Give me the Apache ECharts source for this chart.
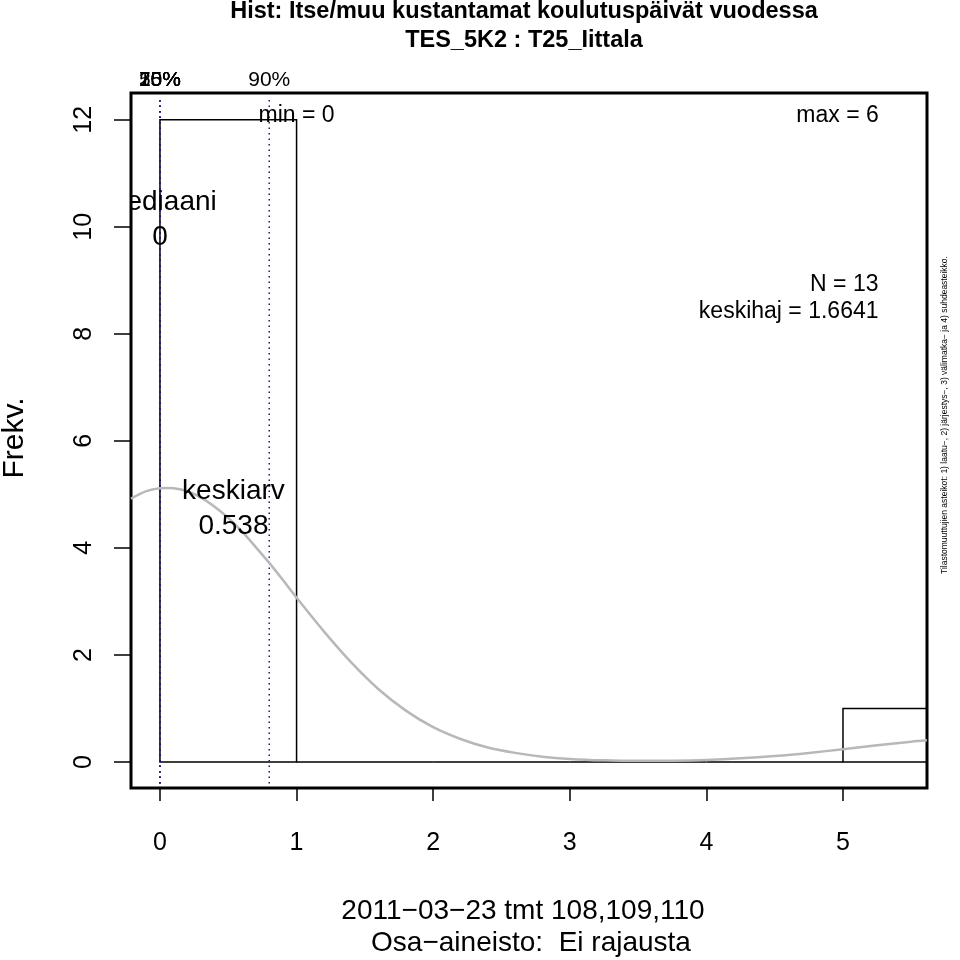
<!DOCTYPE html>
<html>
<head>
<meta charset="utf-8">
<script src="https://cdn.jsdelivr.net/npm/echarts@6/dist/echarts.min.js"></script>
<style>html,body{margin:0;padding:0;background:#fff;}#c{width:960px;height:960px;}</style>
</head>
<body>
<div id="c"></div>
<script>
// ---- data ----
const binStarts = [0, 1, 2, 3, 4, 5];
const binEnds = [1, 2, 3, 4, 5, 6];
const counts = [12, 0, 0, 0, 0, 1];
const xTicks = [0, 1, 2, 3, 4, 5];
const yTicks = [0, 2, 4, 6, 8, 10, 12];
const curveX = [-0.212, -0.1, 0, 0.05, 0.1, 0.2, 0.3, 0.4, 0.5, 0.6, 0.7, 0.8, 0.9, 1.0, 1.2, 1.4, 1.6, 1.8, 2.0, 2.2, 2.4, 2.6, 2.8, 3.0, 3.25, 3.5, 3.75, 4.0, 4.25, 4.5, 4.75, 5.0, 5.25, 5.5, 5.615];
const curveY = [4.92, 5.06, 5.115, 5.12, 5.115, 5.06, 4.94, 4.77, 4.56, 4.31, 4.02, 3.72, 3.40, 3.07, 2.44, 1.86, 1.36, 0.96, 0.65, 0.43, 0.27, 0.17, 0.10, 0.058, 0.031, 0.021, 0.025, 0.039, 0.068, 0.111, 0.169, 0.239, 0.313, 0.38, 0.405];
const quantileLabels = ['10%', '25%', '50%', '75%', '90%'];
const quantileValues = [0, 0, 0, 0, 0.8];
const annoTexts = ['min = 0', 'max = 6', 'mediaani', '0', 'keskiarv', '0.538', 'N = 13', 'keskihaj = 1.6641'];
const annoX = [1, 4.96, 0, 0, 0.538, 0.538, 5.26, 5.26];
const annoY = [12.08, 12.08, 10.45, 9.81, 5.05, 4.41, 8.92, 8.41];
const annoAlign = ['center', 'center', 'center', 'center', 'center', 'center', 'right', 'right'];
const annoSize = [23, 23, 28, 28, 28, 28, 23, 23];

const FONT = '"Liberation Sans", Arial, Helvetica, sans-serif';
const XMIN = -0.212, XMAX = 5.615, YMIN = -0.486, YMAX = 12.5;

const chart = echarts.init(document.getElementById('c'), null, {renderer: 'canvas'});
const option = {
  animation: false,
  backgroundColor: '#fff',
  grid: {left: 131, right: 33, top: 93, bottom: 172, show: true, borderColor: '#000', borderWidth: 3, backgroundColor: 'transparent'},
  xAxis: {
    type: 'value', min: XMIN, max: XMAX,
    axisLine: {show: false, onZero: false},
    splitLine: {show: false},
    axisTick: {show: true, length: 13, inside: false, customValues: xTicks, lineStyle: {color: '#000', width: 1.5}},
    axisLabel: {customValues: xTicks, fontSize: 25, color: '#000', fontFamily: FONT, margin: 43, formatter: v => String(v)}
  },
  yAxis: {
    type: 'value', min: YMIN, max: YMAX,
    axisLine: {show: false, onZero: false},
    splitLine: {show: false},
    axisTick: {show: true, length: 17, inside: false, customValues: yTicks, lineStyle: {color: '#000', width: 1.5}},
    axisLabel: {customValues: yTicks, fontSize: 25, color: '#000', fontFamily: FONT, margin: 34, rotate: 90, formatter: v => String(v)}
  },
  series: [
    {
      type: 'custom', clip: true, z: 2,
      data: binStarts.map((s, i) => [s, binEnds[i], counts[i]]),
      renderItem: (params, api) => {
        const p0 = api.coord([api.value(0), 0]);
        const p1 = api.coord([api.value(1), api.value(2)]);
        return {type: 'rect', shape: {x: p0[0], y: p1[1], width: p1[0] - p0[0], height: p0[1] - p1[1]},
          style: {fill: 'none', stroke: '#000', lineWidth: 1.5}};
      }
    },
    {
      type: 'custom', clip: true, z: 3,
      data: quantileValues.map(v => [v]),
      renderItem: (params, api) => {
        const a = api.coord([api.value(0), -0.4]);
        const b = api.coord([api.value(0), 12.42]);
        return {type: 'line', shape: {x1: a[0], y1: a[1], x2: b[0], y2: b[1]},
          style: {stroke: '#1a1a80', lineWidth: 1.5, lineDash: [1.5, 4]}};
      }
    },
    {
      type: 'custom', clip: false, z: 3,
      data: quantileValues.map(v => [v]),
      renderItem: (params, api) => {
        const p = api.coord([api.value(0), YMAX]);
        return {type: 'text', x: p[0], y: p[1] - 13,
          style: {text: quantileLabels[params.dataIndex], textAlign: 'center', textVerticalAlign: 'middle', font: '21px ' + FONT, fill: '#000'}};
      }
    },
    {
      type: 'line', z: 4,
      data: curveX.map((x, i) => [x, curveY[i]]),
      smooth: 0.3, showSymbol: false, symbol: 'none', clip: true,
      lineStyle: {color: '#b8b8b8', width: 2.5}
    },
    {
      type: 'custom', clip: true, z: 5,
      data: annoX.map((x, i) => [x, annoY[i]]),
      renderItem: (params, api) => {
        const i = params.dataIndex;
        const p = api.coord([api.value(0), api.value(1)]);
        return {type: 'text', x: p[0], y: p[1],
          style: {text: annoTexts[i], textAlign: annoAlign[i], textVerticalAlign: 'middle', font: annoSize[i] + 'px ' + FONT, fill: '#000'}};
      }
    }
  ],
  graphic: [
    {type: 'text', x: 524, y: 12, style: {text: 'Hist: Itse/muu kustantamat koulutuspäivät vuodessa', textAlign: 'center', textVerticalAlign: 'middle', font: 'bold 23.5px ' + FONT, fill: '#000'}},
    {type: 'text', x: 524, y: 41, style: {text: 'TES_5K2 : T25_Iittala', textAlign: 'center', textVerticalAlign: 'middle', font: 'bold 23.5px ' + FONT, fill: '#000'}},
    {type: 'text', x: 523, y: 911, style: {text: '2011\u221203\u221223 tmt 108,109,110', textAlign: 'center', textVerticalAlign: 'middle', font: '28px ' + FONT, fill: '#000'}},
    {type: 'text', x: 531, y: 943, style: {text: 'Osa\u2212aineisto:  Ei rajausta', textAlign: 'center', textVerticalAlign: 'middle', font: '28px ' + FONT, fill: '#000'}},
    {type: 'text', x: 15, y: 438, rotation: Math.PI / 2, style: {text: 'Frekv.', textAlign: 'center', textVerticalAlign: 'middle', font: '30px ' + FONT, fill: '#000'}},
    {type: 'text', x: 945, y: 415, rotation: Math.PI / 2, style: {text: 'Tilastomuuttujien asteikot: 1) laatu\u2212, 2) järjestys\u2212, 3) välimatka\u2212 ja 4) suhdeasteikko.', textAlign: 'center', textVerticalAlign: 'middle', font: '8.5px ' + FONT, fill: '#000'}}
  ]
};
chart.setOption(option);
</script>
</body>
</html>
